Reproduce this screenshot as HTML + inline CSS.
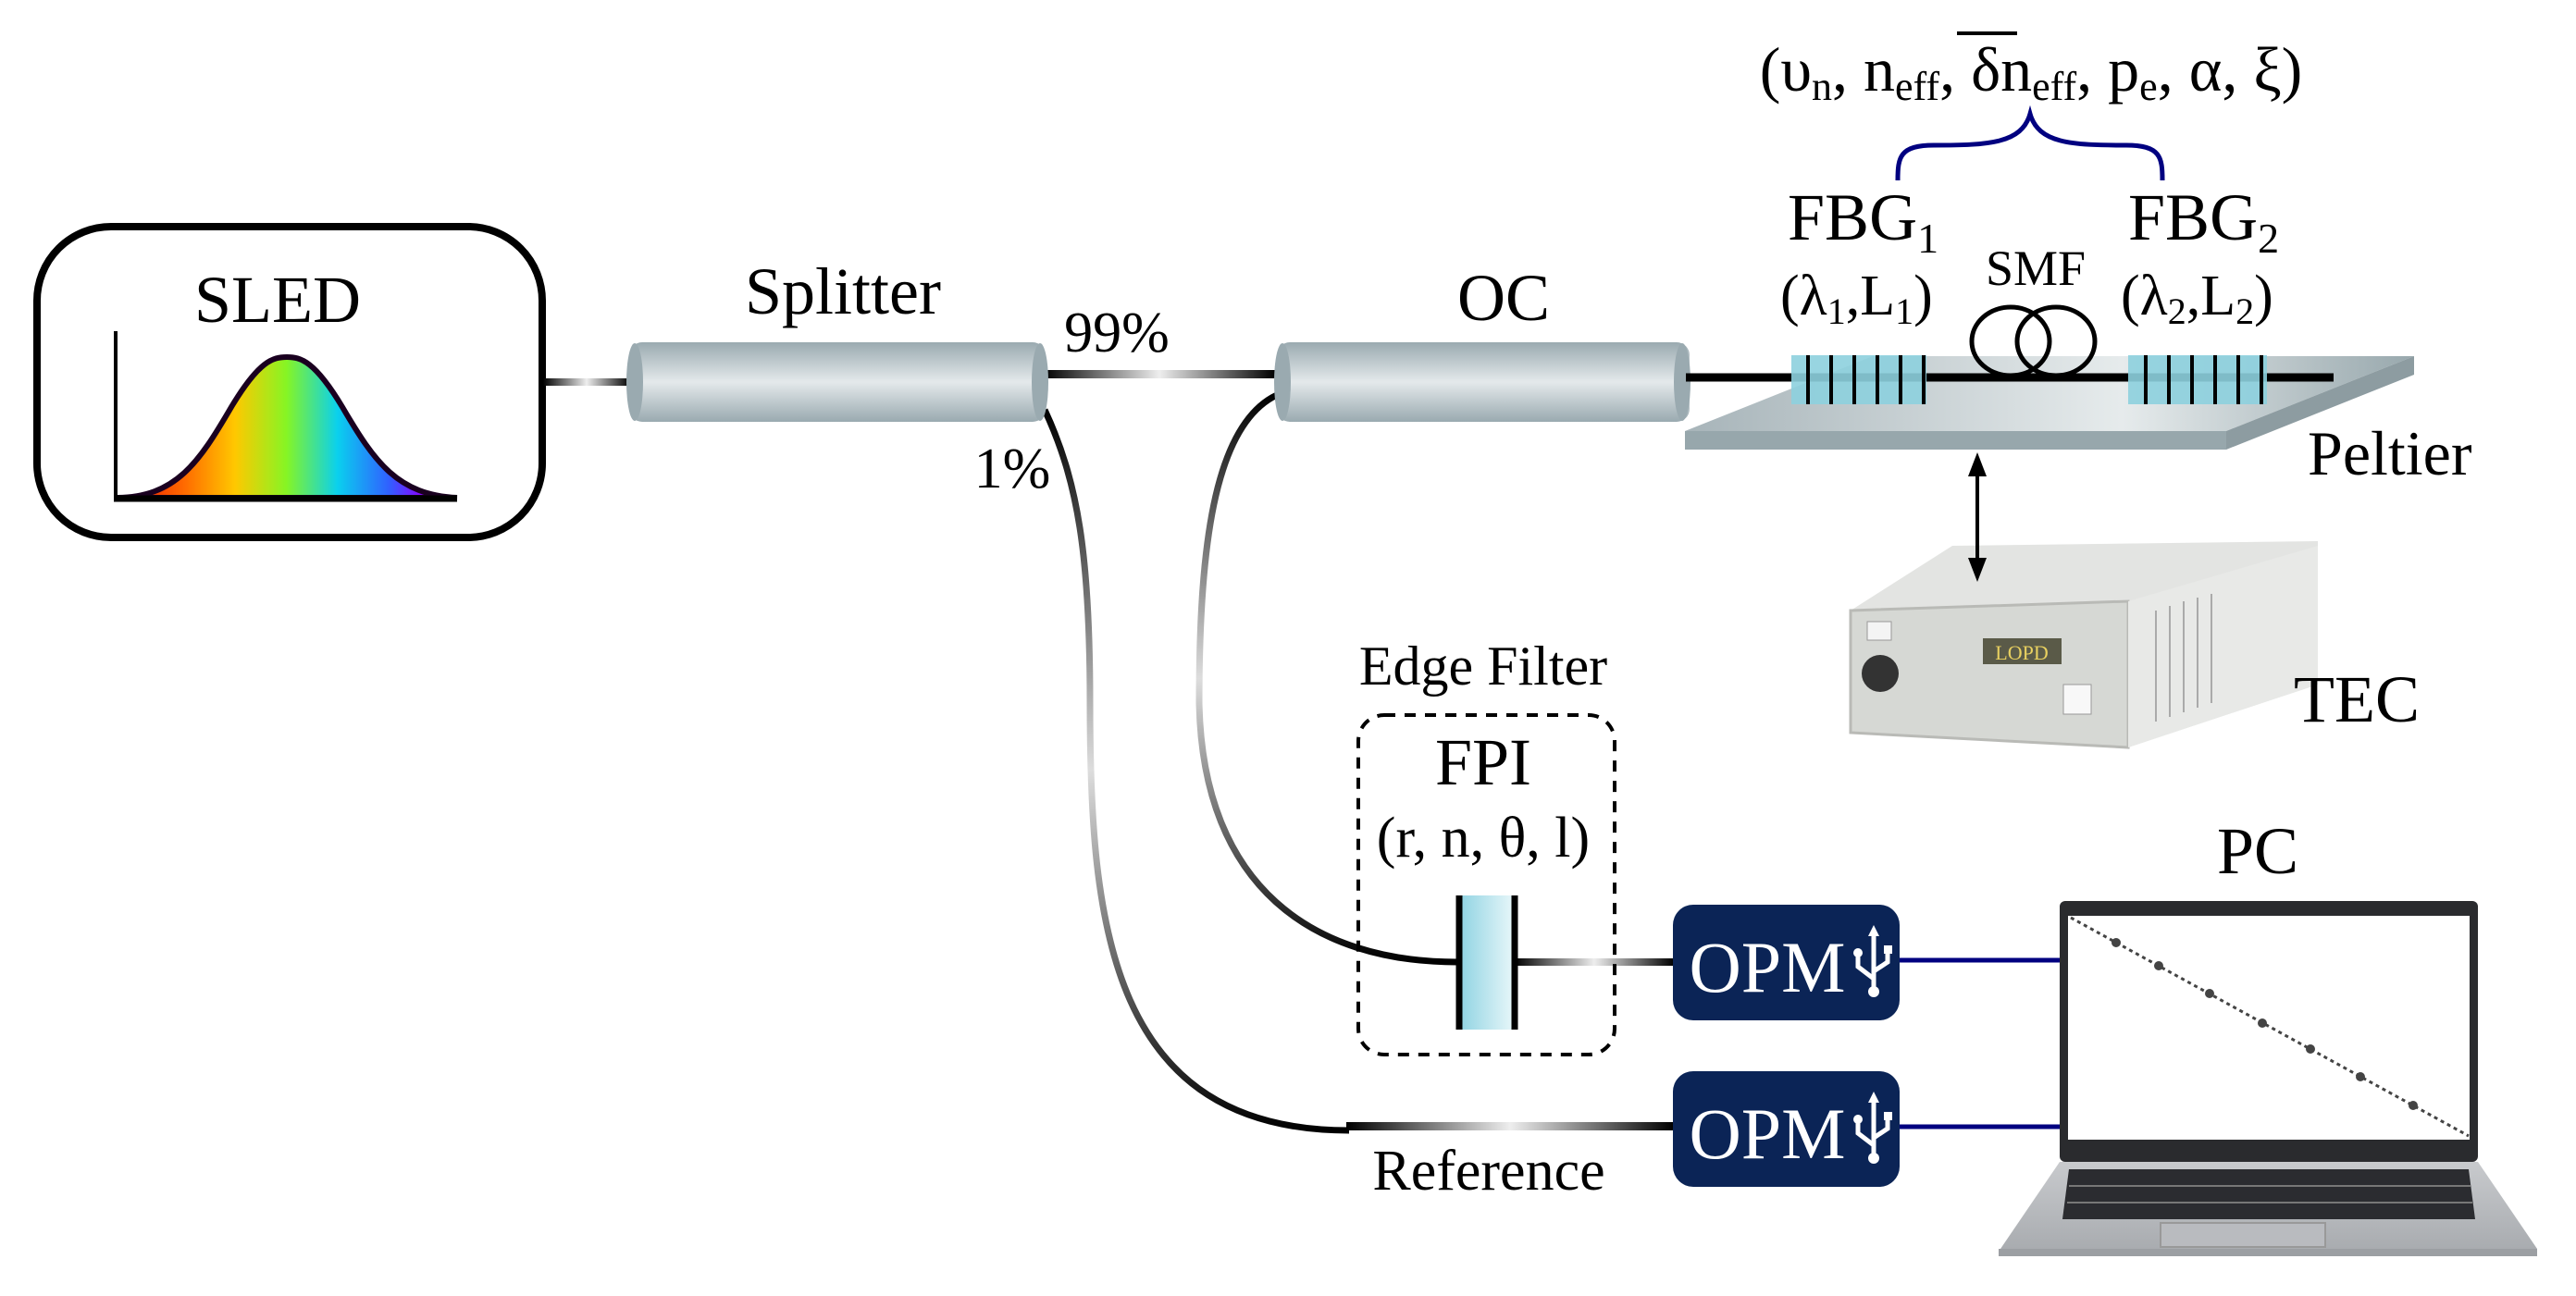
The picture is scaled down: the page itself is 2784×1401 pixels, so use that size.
<!DOCTYPE html>
<html><head><meta charset="utf-8"><style>
html,body{margin:0;padding:0;background:#fff}
svg{display:block}
</style></head><body>
<svg width="2784" height="1401" viewBox="0 0 2784 1401" xmlns="http://www.w3.org/2000/svg" font-family="'Liberation Serif', 'DejaVu Serif', serif">
<defs>
<linearGradient id="cyl" x1="0" y1="0" x2="0" y2="1">
<stop offset="0" stop-color="#9aaab0"/><stop offset="0.5" stop-color="#e4e9eb"/><stop offset="1" stop-color="#9aaab0"/></linearGradient>
<linearGradient id="rain" x1="0" y1="0" x2="1" y2="0">
<stop offset="0" stop-color="#e00000"/><stop offset="0.2" stop-color="#ff6a00"/><stop offset="0.35" stop-color="#ffc800"/><stop offset="0.5" stop-color="#86f524"/><stop offset="0.65" stop-color="#0ad0ee"/><stop offset="0.8" stop-color="#3060ff"/><stop offset="0.9" stop-color="#8a00ff"/><stop offset="1" stop-color="#e040d0"/></linearGradient>
<linearGradient id="fh" x1="0" y1="0" x2="1" y2="0">
<stop offset="0" stop-color="#000"/><stop offset="0.5" stop-color="#eee"/><stop offset="1" stop-color="#000"/></linearGradient>
<linearGradient id="fv" x1="0" y1="0" x2="0" y2="1">
<stop offset="0" stop-color="#000"/><stop offset="0.5" stop-color="#ddd"/><stop offset="1" stop-color="#000"/></linearGradient>
<linearGradient id="plate" x1="0" y1="0" x2="1" y2="0">
<stop offset="0" stop-color="#a7b4b9"/><stop offset="0.6" stop-color="#e6ebec"/><stop offset="1" stop-color="#98a8ad"/></linearGradient>
<linearGradient id="fpi" x1="0" y1="0" x2="1" y2="0">
<stop offset="0" stop-color="#8fd3e2"/><stop offset="1" stop-color="#e6f6f9"/></linearGradient>
<linearGradient id="lapbase" x1="0" y1="0" x2="0" y2="1">
<stop offset="0" stop-color="#c8cacd"/><stop offset="1" stop-color="#a9acb0"/></linearGradient>
</defs>

<!-- SLED -->
<rect x="40" y="245" width="546" height="336" rx="80" ry="80" fill="#fff" stroke="#000" stroke-width="8"/>
<text x="300" y="348" font-size="72" text-anchor="middle">SLED</text>
<path d="M125,538 C190,538 215,500 250,440 C280,390 295,386 310,386 C325,386 340,390 370,440 C405,500 430,535 494,538 Z" fill="url(#rain)" stroke="#1a0020" stroke-width="6"/>
<line x1="125" y1="358" x2="125" y2="540" stroke="#000" stroke-width="4"/>
<line x1="123" y1="539" x2="494" y2="539" stroke="#000" stroke-width="7"/>

<!-- fibers -->
<rect x="587" y="409" width="94" height="8" fill="url(#fh)"/>
<rect x="1128" y="400" width="250" height="9" fill="url(#fh)"/>
<path d="M1129,443 C1165,520 1178,600 1178,760 C1178,1000 1200,1222 1458,1222" fill="none" stroke="url(#fv)" stroke-width="7"/>
<rect x="1455" y="1213" width="354" height="9" fill="url(#fh)"/>
<path d="M1380,427 C1310,460 1296,600 1296,760 C1300,960 1420,1040 1575,1040" fill="none" stroke="url(#fv)" stroke-width="7"/>
<rect x="1637" y="1036" width="172" height="8" fill="url(#fh)"/>

<!-- splitter -->
<rect x="680" y="370" width="450" height="86" rx="14" fill="url(#cyl)"/>
<ellipse cx="686" cy="413" rx="9" ry="42" fill="#9aaab0"/>
<ellipse cx="1124" cy="413" rx="9" ry="42" fill="#9aaab0"/>
<text x="911" y="339" font-size="72" text-anchor="middle">Splitter</text>
<text x="1207" y="380" font-size="62" text-anchor="middle">99%</text>
<text x="1094" y="527" font-size="62" text-anchor="middle">1%</text>

<!-- OC -->
<rect x="1380" y="370" width="446" height="86" rx="14" fill="url(#cyl)"/>
<ellipse cx="1386" cy="413" rx="9" ry="42" fill="#9aaab0"/>
<ellipse cx="1818" cy="413" rx="9" ry="42" fill="#9aaab0"/>
<text x="1625" y="346" font-size="72" text-anchor="middle">OC</text>

<!-- Peltier -->
<polygon points="1821,466 2406,466 2609,385 2024,385" fill="url(#plate)"/>
<polygon points="1821,466 2406,466 2406,486 1821,486" fill="#97a7ac"/>
<polygon points="2406,466 2609,385 2609,405 2406,486" fill="#8d9ca1"/>
<line x1="1822" y1="408" x2="2522" y2="408" stroke="#000" stroke-width="9"/>
<text x="2494" y="513" font-size="68">Peltier</text>

<!-- FBGs -->
<g>
<rect x="1936" y="384" width="146" height="53" fill="#8dd0de" opacity="0.9"/>
<rect x="2300" y="384" width="150" height="53" fill="#8dd0de" opacity="0.9"/>
<g stroke="#000" stroke-width="4">
<line x1="1954" y1="384" x2="1954" y2="437"/><line x1="1979" y1="384" x2="1979" y2="437"/><line x1="2004" y1="384" x2="2004" y2="437"/><line x1="2029" y1="384" x2="2029" y2="437"/><line x1="2054" y1="384" x2="2054" y2="437"/><line x1="2079" y1="384" x2="2079" y2="437"/>
<line x1="2319" y1="384" x2="2319" y2="437"/><line x1="2344" y1="384" x2="2344" y2="437"/><line x1="2369" y1="384" x2="2369" y2="437"/><line x1="2394" y1="384" x2="2394" y2="437"/><line x1="2419" y1="384" x2="2419" y2="437"/><line x1="2444" y1="384" x2="2444" y2="437"/>
</g>
<ellipse cx="2173" cy="369" rx="42" ry="37" fill="none" stroke="#000" stroke-width="5"/>
<ellipse cx="2222" cy="369" rx="42" ry="37" fill="none" stroke="#000" stroke-width="5"/>
</g>
<text x="1932" y="259" font-size="72">FBG<tspan font-size="46" dy="14">1</tspan></text>
<text x="2300" y="259" font-size="72">FBG<tspan font-size="46" dy="14">2</tspan></text>
<text x="1924" y="340" font-size="62">(λ<tspan font-size="40" dy="10">1</tspan><tspan dy="-10">,L</tspan><tspan font-size="40" dy="10">1</tspan><tspan dy="-10">)</tspan></text>
<text x="2292" y="340" font-size="62">(λ<tspan font-size="40" dy="10">2</tspan><tspan dy="-10">,L</tspan><tspan font-size="40" dy="10">2</tspan><tspan dy="-10">)</tspan></text>
<text x="2200" y="308" font-size="54" text-anchor="middle">SMF</text>
<path d="M2051,195 C2051,170 2053,157 2090,157 C2150,157 2185,155 2194,123 C2203,155 2238,157 2298,157 C2335,157 2337,170 2337,195" fill="none" stroke="#000080" stroke-width="5"/>
<text x="2195" y="98" font-size="68" text-anchor="middle">(υ<tspan font-size="44" dy="10">n</tspan><tspan dy="-10">, n</tspan><tspan font-size="44" dy="10">eff</tspan><tspan dy="-10">, δn</tspan><tspan font-size="44" dy="10">eff</tspan><tspan dy="-10">, p</tspan><tspan font-size="44" dy="10">e</tspan><tspan dy="-10">, α, ξ)</tspan></text>
<line x1="2115" y1="36" x2="2180" y2="36" stroke="#000" stroke-width="4"/>

<!-- TEC device -->
<polygon points="2000,660 2110,590 2505,585 2505,740 2300,808 2000,790" fill="#e3e4e2"/>
<polygon points="2000,660 2300,650 2300,808 2000,792" fill="#d6d8d4" stroke="#b9bab6" stroke-width="3"/>
<polygon points="2300,650 2505,590 2505,740 2300,808" fill="#e8e9e7"/>
<g stroke="#aaa" stroke-width="2">
<line x1="2330" y1="660" x2="2330" y2="780"/><line x1="2345" y1="655" x2="2345" y2="775"/><line x1="2360" y1="650" x2="2360" y2="770"/><line x1="2375" y1="646" x2="2375" y2="765"/><line x1="2390" y1="642" x2="2390" y2="760"/></g>
<rect x="2143" y="690" width="85" height="28" fill="#5a5a48"/>
<text x="2185" y="713" font-size="22" text-anchor="middle" fill="#e8d060">LOPD</text>
<circle cx="2032" cy="728" r="20" fill="#333"/>
<rect x="2018" y="672" width="26" height="20" fill="#f4f4f4" stroke="#999"/>
<rect x="2230" y="740" width="30" height="32" fill="#f8f8f8" stroke="#999"/>
<text x="2479" y="780" font-size="72">TEC</text>

<!-- arrow -->
<line x1="2137" y1="505" x2="2137" y2="612" stroke="#000" stroke-width="4"/>
<polygon points="2137,489 2127,515 2147,515" fill="#000"/>
<polygon points="2137,629 2127,603 2147,603" fill="#000"/>

<!-- Edge filter -->
<text x="1603" y="740" font-size="60" text-anchor="middle">Edge Filter</text>
<rect x="1468" y="773" width="277" height="367" rx="28" fill="none" stroke="#000" stroke-width="4" stroke-dasharray="12,10"/>
<text x="1603" y="848" font-size="72" text-anchor="middle">FPI</text>
<text x="1603" y="926" font-size="62" text-anchor="middle">(r, n, θ, l)</text>
<rect x="1577" y="968" width="58" height="145" fill="url(#fpi)"/>
<line x1="1577" y1="968" x2="1577" y2="1113" stroke="#000" stroke-width="7"/>
<line x1="1637" y1="968" x2="1637" y2="1113" stroke="#000" stroke-width="7"/>

<!-- OPMs -->
<line x1="2052" y1="1038" x2="2228" y2="1038" stroke="#000080" stroke-width="5"/>
<line x1="2052" y1="1218" x2="2228" y2="1218" stroke="#000080" stroke-width="5"/>
<g>
<rect x="1808" y="978" width="245" height="125" rx="22" fill="#0b2456"/>
<text x="1910" y="1072" font-size="78" text-anchor="middle" fill="#fff">OPM</text>
<g stroke="#fff" stroke-width="5" fill="none"><line x1="2025" y1="1010" x2="2025" y2="1068"/><path d="M2025,1058 L2008,1045 L2008,1032"/><path d="M2025,1050 L2040,1040 L2040,1028"/></g>
<polygon points="2025,1000 2019,1012 2031,1012" fill="#fff"/><circle cx="2025" cy="1072" r="6" fill="#fff"/><circle cx="2008" cy="1030" r="5" fill="#fff"/><rect x="2036" y="1022" width="9" height="9" fill="#fff"/>
</g>
<g transform="translate(0,180)">
<rect x="1808" y="978" width="245" height="125" rx="22" fill="#0b2456"/>
<text x="1910" y="1072" font-size="78" text-anchor="middle" fill="#fff">OPM</text>
<g stroke="#fff" stroke-width="5" fill="none"><line x1="2025" y1="1010" x2="2025" y2="1068"/><path d="M2025,1058 L2008,1045 L2008,1032"/><path d="M2025,1050 L2040,1040 L2040,1028"/></g>
<polygon points="2025,1000 2019,1012 2031,1012" fill="#fff"/><circle cx="2025" cy="1072" r="6" fill="#fff"/><circle cx="2008" cy="1030" r="5" fill="#fff"/><rect x="2036" y="1022" width="9" height="9" fill="#fff"/>
</g>
<text x="1609" y="1286" font-size="62" text-anchor="middle">Reference</text>

<!-- PC -->
<text x="2440" y="944" font-size="72" text-anchor="middle">PC</text>
<rect x="2226" y="974" width="452" height="282" rx="6" fill="#2a2b2e"/>
<rect x="2235" y="990" width="434" height="242" fill="#fff"/>
<polygon points="2226,1256 2678,1256 2742,1350 2162,1350" fill="url(#lapbase)"/>
<polygon points="2236,1264 2668,1264 2675,1318 2229,1318" fill="#2b2c30"/>
<g stroke="#777" stroke-width="2"><line x1="2236" y1="1282" x2="2670" y2="1282"/><line x1="2234" y1="1300" x2="2672" y2="1300"/></g>
<rect x="2335" y="1322" width="178" height="26" fill="#b9bbbf" stroke="#999" stroke-width="2"/>
<rect x="2160" y="1350" width="582" height="8" fill="#9c9fa3"/>
<line x1="2238" y1="992" x2="2668" y2="1228" stroke="#444" stroke-width="3" stroke-dasharray="4,4"/>
<g fill="#444"><circle cx="2287" cy="1019" r="5"/><circle cx="2333" cy="1044" r="5"/><circle cx="2388" cy="1074" r="5"/><circle cx="2445" cy="1106" r="5"/><circle cx="2497" cy="1134" r="5"/><circle cx="2551" cy="1164" r="5"/><circle cx="2608" cy="1195" r="5"/></g>
</svg>
</body></html>
